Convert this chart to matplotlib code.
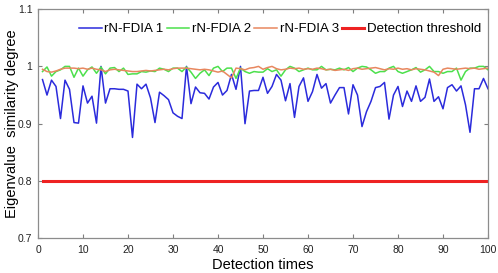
import numpy as np
import matplotlib
matplotlib.use('Agg')
from matplotlib import pyplot as plt

plt.rcParams['font.family'] = ['Liberation Sans', 'DejaVu Sans']

detect_times = np.arange(1, 101)

# rN-FDIA 1 (blue)
fdia1 = [0.977, 0.950, 0.976, 0.965, 0.909, 0.976, 0.960, 0.902, 0.901, 0.966,
         0.936, 0.948, 0.901, 1.000, 0.936, 0.961, 0.961, 0.960, 0.960, 0.957,
         0.876, 0.969, 0.961, 0.969, 0.945, 0.902, 0.955, 0.949, 0.942, 0.919,
         0.913, 0.909, 1.000, 0.935, 0.964, 0.954, 0.953, 0.943, 0.964, 0.972,
         0.950, 0.958, 0.986, 0.960, 1.000, 0.900, 0.957, 0.958, 0.958, 0.981,
         0.953, 0.965, 0.986, 0.976, 0.940, 0.970, 0.911, 0.965, 0.980, 0.939,
         0.956, 0.986, 0.962, 0.970, 0.936, 0.950, 0.963, 0.963, 0.917, 0.968,
         0.950, 0.895, 0.921, 0.939, 0.963, 0.965, 0.972, 0.908, 0.950, 0.965,
         0.930, 0.957, 0.939, 0.966, 0.939, 0.946, 0.978, 0.939, 0.947, 0.926,
         0.963, 0.968, 0.957, 0.966, 0.933, 0.885, 0.961, 0.961, 0.979, 0.961]

# rN-FDIA 2 (green)
fdia2 = [0.991, 0.999, 0.983, 0.991, 0.994, 1.000, 1.000, 0.981, 0.997, 0.983,
         0.994, 0.999, 0.988, 0.999, 0.987, 0.997, 0.998, 0.991, 0.997, 0.986,
         0.987, 0.987, 0.991, 0.990, 0.992, 0.991, 0.997, 0.995, 0.991, 0.997,
         0.997, 0.991, 0.999, 0.990, 0.979, 0.988, 0.994, 0.984, 0.997, 1.000,
         0.991, 0.997, 0.997, 0.979, 0.997, 0.991, 0.988, 0.991, 0.990, 0.990,
         0.996, 0.991, 0.994, 0.983, 0.994, 1.000, 0.997, 0.991, 0.994, 0.997,
         0.994, 0.994, 1.000, 0.994, 0.995, 0.994, 0.997, 0.994, 0.998, 0.991,
         0.997, 1.000, 0.999, 0.994, 0.988, 0.991, 0.991, 0.997, 1.000, 0.991,
         0.988, 0.991, 0.994, 0.998, 0.990, 0.994, 1.000, 0.991, 0.991, 0.988,
         0.991, 0.991, 0.997, 0.976, 0.991, 0.997, 0.997, 1.000, 1.000, 0.994]

# rN-FDIA 3 (orange)
fdia3 = [0.995, 0.991, 0.990, 0.992, 0.995, 0.997, 0.997, 0.997, 0.996, 0.997,
         0.995, 0.997, 0.995, 0.994, 0.991, 0.994, 0.995, 0.994, 0.993, 0.992,
         0.991, 0.991, 0.992, 0.993, 0.992, 0.993, 0.994, 0.995, 0.994, 0.996,
         0.997, 0.997, 0.997, 0.996, 0.995, 0.994, 0.995, 0.994, 0.992, 0.990,
         0.992, 0.986, 0.980, 0.997, 0.996, 0.994, 0.997, 0.998, 1.000, 0.995,
         0.998, 1.000, 0.996, 0.994, 0.995, 0.997, 0.996, 0.997, 0.995, 0.996,
         0.995, 0.997, 0.996, 0.994, 0.995, 0.993, 0.994, 0.995, 0.993, 0.996,
         0.997, 0.995, 0.996, 0.997, 0.998, 0.996, 0.994, 0.996, 0.995, 0.997,
         0.995, 0.996, 0.994, 0.996, 0.995, 0.994, 0.992, 0.990, 0.984, 0.995,
         0.997, 0.996, 0.995, 0.996, 0.997, 0.996, 0.997, 0.995, 0.996, 0.997]

threshold = 0.8

fig = plt.figure(figsize=(4.98, 2.73), dpi=100)
ax = fig.add_axes([38/498, (273-238.3)/273, 450/498, 229.2/273])

ax.plot(detect_times, fdia1, color='#2b2bdc', lw=1.1, label='rN-FDIA 1')
ax.plot(detect_times, fdia2, color='#4ce04c', lw=1.1, label='rN-FDIA 2')
ax.plot(detect_times, fdia3, color='#e8875f', lw=1.1, label='rN-FDIA 3')
ax.plot(detect_times, [threshold] * len(detect_times), color='#ee2222', lw=2.2,
        label='Detection threshold')

ax.set_xlim(0, 100)
ax.set_ylim(0.7, 1.1)
ax.set_xticks(np.arange(0, 101, 10))
ax.set_yticks([0.7, 0.8, 0.9, 1.0, 1.1])
ax.set_yticklabels(['0.7', '0.8', '0.9', '1', '1.1'])
ax.tick_params(direction='in', length=3, width=0.8, labelsize=7.5, colors='#7f7f7f',
               labelcolor='#222222', top=True, right=True)
ax.tick_params(axis='x', pad=5)
ax.tick_params(axis='y', pad=4)
for s in ax.spines.values():
    s.set_color('#8c8c8c')
    s.set_linewidth(0.9)

ax.set_xlabel('Detection times', fontsize=10.5, labelpad=2)
ax.set_ylabel('Eigenvalue  similarity degree', fontsize=10.5)
ax.yaxis.set_label_coords(-0.043, 0.5)

leg = ax.legend(loc='center right', bbox_to_anchor=(0.985, 0.913), ncol=4, frameon=False,
                fontsize=9.5, handlelength=1.7, handletextpad=0.2, columnspacing=0.25,
                borderaxespad=0, borderpad=0)

fig.savefig('out.png', dpi=100)
